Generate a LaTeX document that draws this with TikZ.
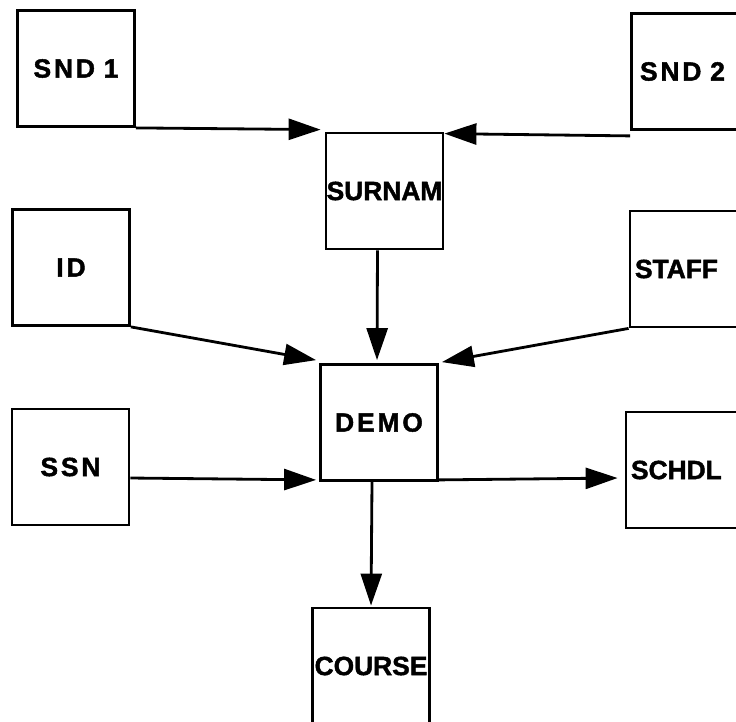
\documentclass[tikz,border=0pt]{standalone}
\usepackage{fontspec}
\newfontfamily\heavyfont{Liberation Sans}[BoldFeatures={FakeBold=1.6}]
\usepackage{tikz}
\usetikzlibrary{arrows.meta,calc}

\begin{document}
\begin{tikzpicture}[
  x=0.02cm, y=-0.02cm,
  every node/.style={font=\fontsize{15}{17}\selectfont\heavyfont\bfseries},
  rel/.style ={draw, line width=1.6pt, inner xsep=0pt, text width=2.34cm,
               minimum height=2.32cm, align=center},
  relr/.style={rel, inner xsep=0.1cm, text width=2.14cm, align=left},
  wide/.style={font=\fontsize{15}{17}\selectfont\heavyfont\bfseries\addfontfeature{LetterSpace=11}},
  arr/.style ={-{Triangle[length=0.64cm,width=0.42cm]}, line width=1.6pt}
]
\useasboundingbox (0,0) rectangle (736,721);
\clip (0,0) rectangle (736,721);

%% --- Left column ---------------------------------------------
\node[rel, wide] (snd1) at (76,68.5)  {SND 1};
\node[rel, wide] (id)   at (71,267.5) {ID};
\node[rel, wide] (ssn)  at (70.5,467) {SSN};

%% --- Middle column -------------------------------------------
\node[rel]       (surnam) at (384.5,191) {SURNAM};
\node[rel, wide] (demo)   at (379,422.5) {DEMO};
\node[rel]       (course) at (371,666)   {COURSE};

%% --- Right column (cut at the edge) --------------------------
\node[relr, wide] (snd2)  at (690,71.5)  {\hspace{2pt}SND 2};
\node[relr]       (staff) at (688.5,269) {STAFF};
\node[relr]       (schdl) at (684.5,470) {SCHDL};

%% --- Into SURNAM ---------------------------------------------
\draw[arr] (snd1.south east) -- ($(surnam.north west)+(-4,-2)$);
\draw[arr] ($(snd2.south west)+(0,5)$) -- ($(surnam.north east)+(0,2)$);

%% --- Into DEMO -----------------------------------------------
\draw[arr] ($(surnam.south)+(-7,0)$) -- ($(demo.north)+(-2,-3)$);
\draw[arr] (id.south east) -- ($(demo.north west)+(-3,-3)$);
\draw[arr] (staff.south west) -- ($(demo.north east)+(3,-1)$);
\draw[arr] ($(ssn.east)+(0,11)$) -- ($(demo.south west)+(-3,-2)$);

%% --- Out of DEMO ---------------------------------------------
\draw[arr] ($(demo.south east)+(0,-2)$) -- ($(schdl.west)+(-7,8)$);
\draw[arr] ($(demo.south)+(-7,0)$) -- ($(course.north)+(0,-1)$);

\end{tikzpicture}
\end{document}
